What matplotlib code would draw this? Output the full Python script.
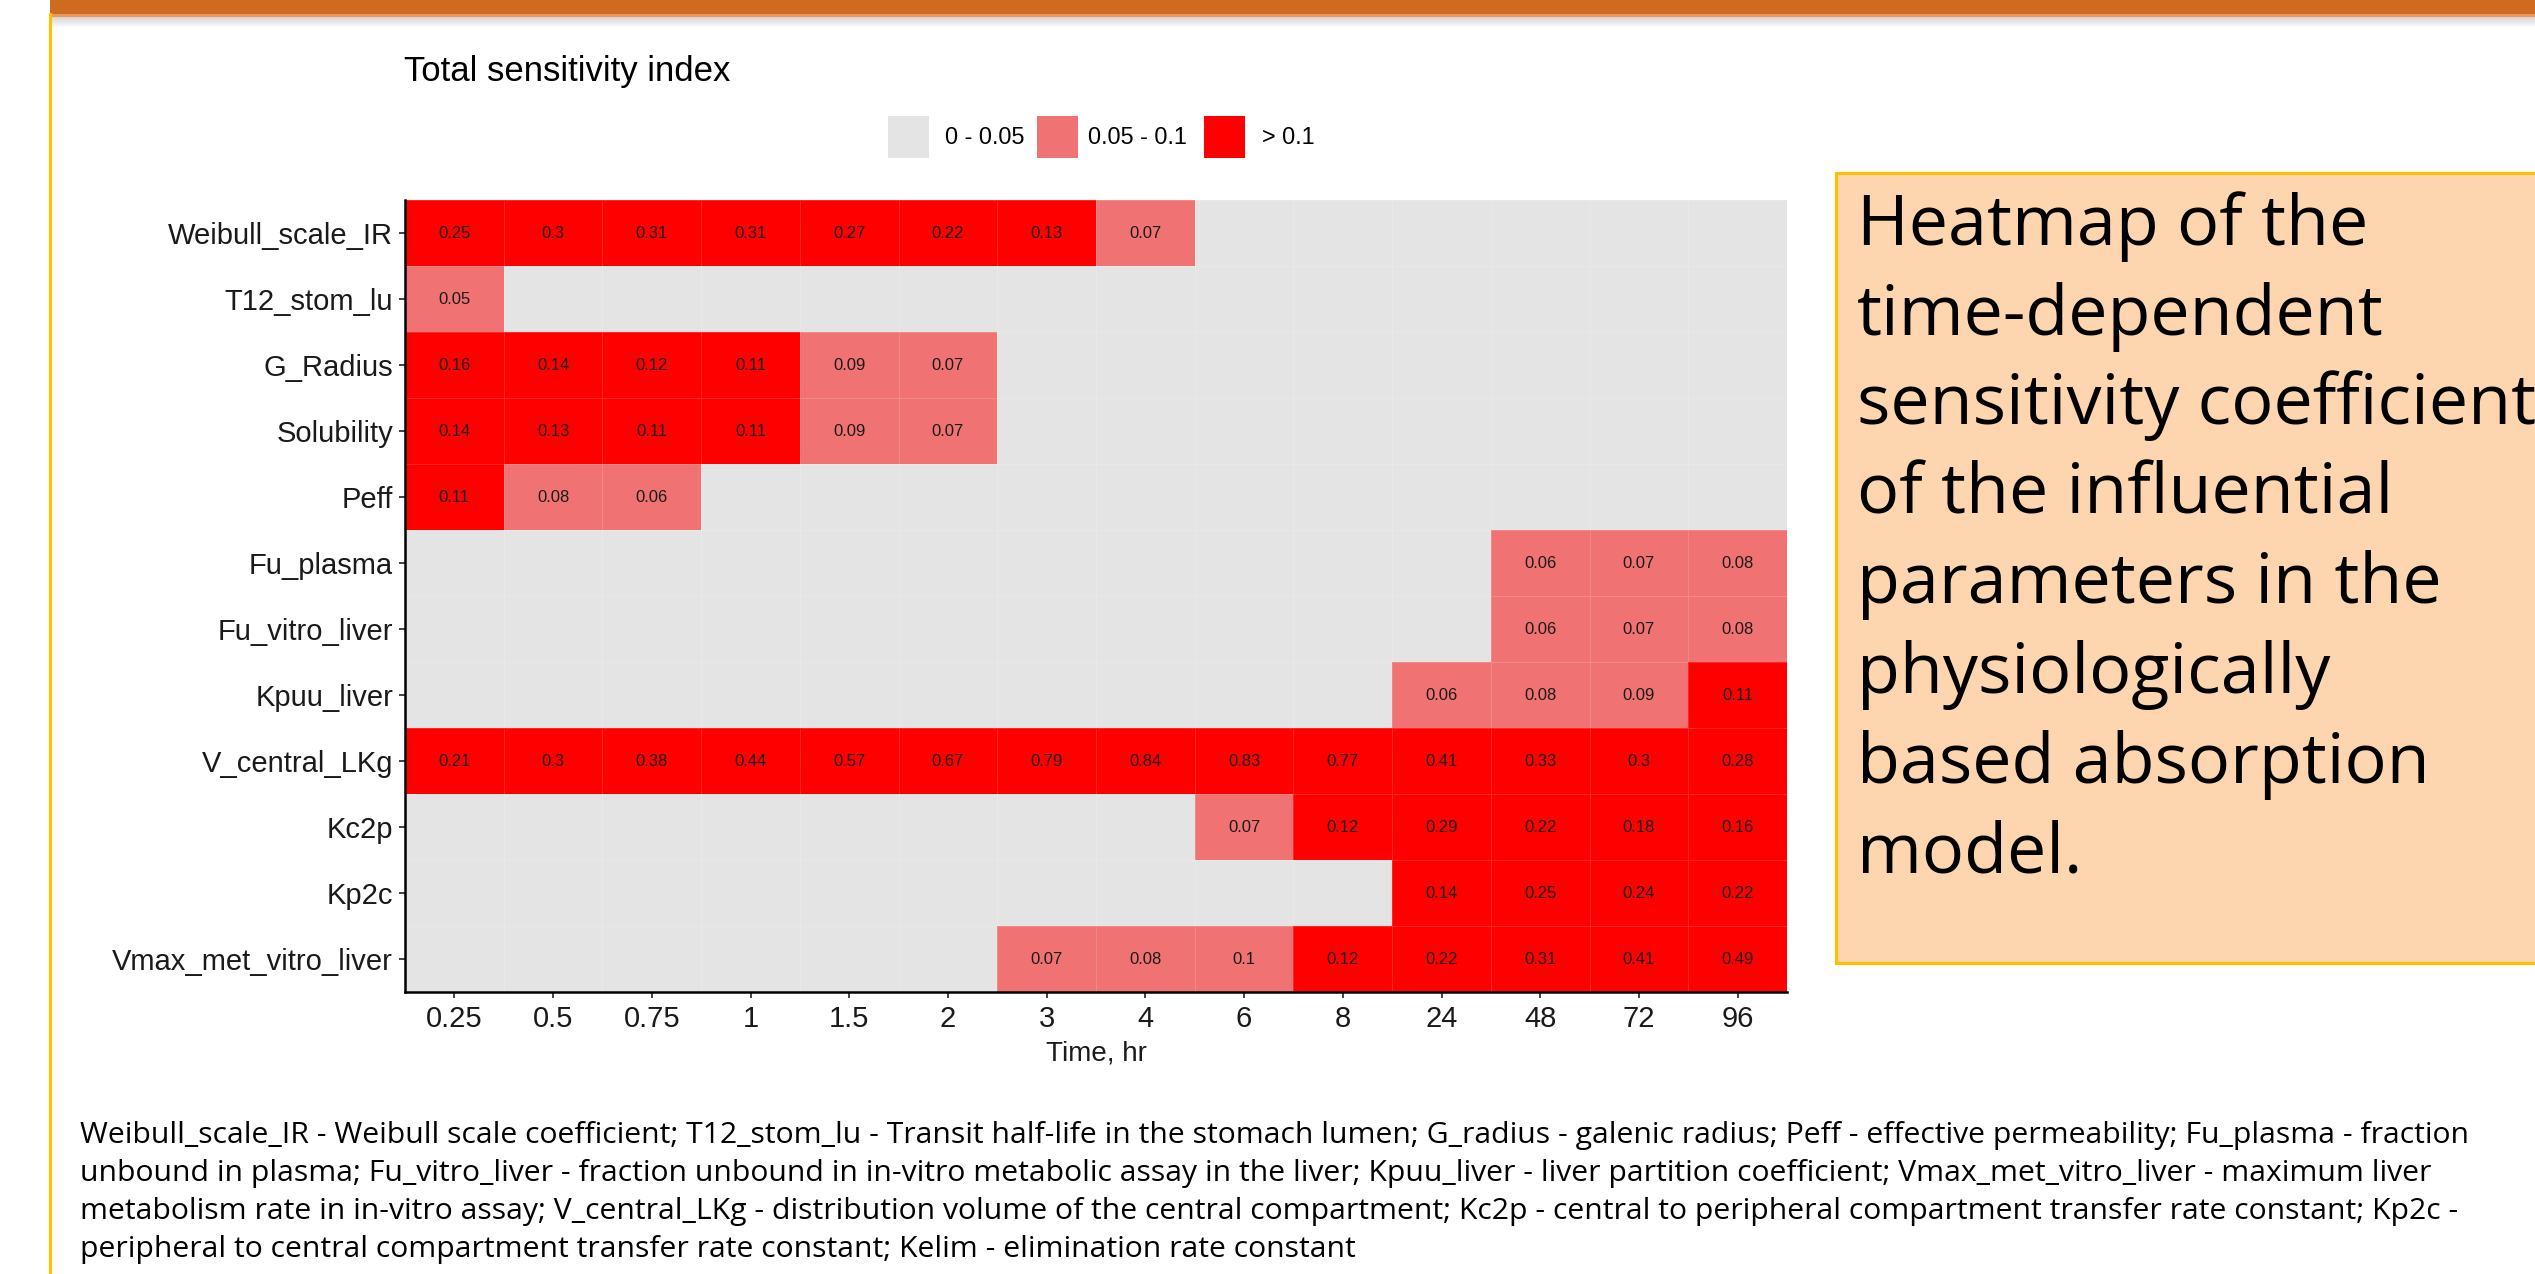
import numpy as np
import matplotlib
matplotlib.use("Agg")
import matplotlib.pyplot as plt
from matplotlib.colors import ListedColormap, BoundaryNorm
from matplotlib.patches import Rectangle

# ---- data -------------------------------------------------------------
times = ["0.25", "0.5", "0.75", "1", "1.5", "2", "3", "4", "6", "8", "24", "48", "72", "96"]
params = ["Weibull_scale_IR", "T12_stom_lu", "G_Radius", "Solubility", "Peff",
          "Fu_plasma", "Fu_vitro_liver", "Kpuu_liver", "V_central_LKg",
          "Kc2p", "Kp2c", "Vmax_met_vitro_liver"]
_ = np.nan  # index below 0.05 (not labelled)
weibull_scale_ir = [0.25, 0.3, 0.31, 0.31, 0.27, 0.22, 0.13, 0.07, _, _, _, _, _, _]
t12_stom_lu      = [0.05, _, _, _, _, _, _, _, _, _, _, _, _, _]
g_radius         = [0.16, 0.14, 0.12, 0.11, 0.09, 0.07, _, _, _, _, _, _, _, _]
solubility       = [0.14, 0.13, 0.11, 0.11, 0.09, 0.07, _, _, _, _, _, _, _, _]
peff             = [0.11, 0.08, 0.06, _, _, _, _, _, _, _, _, _, _, _]
fu_plasma        = [_, _, _, _, _, _, _, _, _, _, _, 0.06, 0.07, 0.08]
fu_vitro_liver   = [_, _, _, _, _, _, _, _, _, _, _, 0.06, 0.07, 0.08]
kpuu_liver       = [_, _, _, _, _, _, _, _, _, _, 0.06, 0.08, 0.09, 0.11]
v_central_lkg    = [0.21, 0.3, 0.38, 0.44, 0.57, 0.67, 0.79, 0.84, 0.83, 0.77, 0.41, 0.33, 0.3, 0.28]
kc2p             = [_, _, _, _, _, _, _, _, 0.07, 0.12, 0.29, 0.22, 0.18, 0.16]
kp2c             = [_, _, _, _, _, _, _, _, _, _, 0.14, 0.25, 0.24, 0.22]
vmax_met_vitro   = [_, _, _, _, _, _, 0.07, 0.08, 0.1, 0.12, 0.22, 0.31, 0.41, 0.49]

bin_labels = ["0 - 0.05", "0.05 - 0.1", "> 0.1"]
bin_colors = ["#E4E4E4", "#F17272", "#FF0000"]

rows = [weibull_scale_ir, t12_stom_lu, g_radius, solubility, peff, fu_plasma,
        fu_vitro_liver, kpuu_liver, v_central_lkg, kc2p, kp2c, vmax_met_vitro]
values = np.array(rows, dtype=float)

# category per cell: 0 -> below 0.05, 1 -> 0.05-0.1, 2 -> above 0.1
cats = np.zeros(values.shape, dtype=int)
cats[values >= 0.05 - 1e-9] = 1
cats[values > 0.1 + 1e-9] = 2

W, H = 2535, 1274
fig = plt.figure(figsize=(W / 100, H / 100), dpi=100)
fig.patch.set_facecolor("white")

def fx(px):
    return px / W

def fy(py):
    return 1 - py / H

chart_font = ["Liberation Sans", "DejaVu Sans"]
slide_font = ["Open Sans", "DejaVu Sans"]

# ---- slide decoration -------------------------------------------------
fig.patches.append(Rectangle((fx(50), fy(14)), 1, 14 / H, transform=fig.transFigure,
                             facecolor="#CE6B1F", edgecolor="none", zorder=5))
fig.patches.append(Rectangle((fx(50), fy(16.5)), 1, 2.5 / H, transform=fig.transFigure,
                             facecolor="#EC9A55", edgecolor="none", zorder=5))
for k in range(10):
    a = 0.35 * (1 - k / 10)
    fig.patches.append(Rectangle((fx(50), fy(17.5 + k)), 1, 1 / H, transform=fig.transFigure,
                                 facecolor=(0.55, 0.55, 0.55, a), edgecolor="none", zorder=4))
fig.add_artist(plt.Line2D([fx(50), fx(50)], [0, fy(14)], transform=fig.transFigure,
                          color="#FFC000", lw=2.2, zorder=6))

# ---- heatmap ----------------------------------------------------------
ax = fig.add_axes([fx(405), fy(992), (1787 - 405) / W, (992 - 200) / H])
cmap = ListedColormap(bin_colors)
norm = BoundaryNorm([-0.5, 0.5, 1.5, 2.5], cmap.N)
ax.pcolormesh(np.arange(len(times) + 1), np.arange(len(params) + 1), cats,
              cmap=cmap, norm=norm, edgecolors=(1, 1, 1, 0.16), linewidth=0.6)
ax.set_xlim(0, len(times))
ax.set_ylim(len(params), 0)

for i in range(len(params)):
    for j in range(len(times)):
        v = values[i, j]
        if not np.isnan(v):
            ax.text(j + 0.5, i + 0.5, f"{v:g}", ha="center", va="center",
                    fontsize=12, family=chart_font, color="#1A1A1A")

ax.set_xticks(np.arange(len(times)) + 0.5)
ax.set_xticklabels(times, family=chart_font, fontsize=21, color="#1A1A1A")
ax.set_yticks(np.arange(len(params)) + 0.5)
ax.set_yticklabels(params, family=chart_font, fontsize=21, color="#1A1A1A")
ax.tick_params(axis="both", length=4.5, width=1.3, color="#333333")
ax.tick_params(axis="x", pad=5)
ax.tick_params(axis="y", pad=4)
for s in ["top", "right"]:
    ax.spines[s].set_visible(False)
for s in ["left", "bottom"]:
    ax.spines[s].set_linewidth(1.8)
    ax.spines[s].set_color("black")
ax.set_xlabel("Time, hr", family=chart_font, fontsize=20, color="#1A1A1A", labelpad=5)

# title and legend
fig.text(fx(404), fy(71), "Total sensitivity index", family=chart_font, fontsize=25,
         ha="left", va="center", color="black")
legend_x = [888, 1037, 1204]
label_x = [945, 1088, 1262]
for bx, lx, c, lab in zip(legend_x, label_x, bin_colors, bin_labels):
    fig.patches.append(Rectangle((fx(bx), fy(158)), 41 / W, 42 / H, transform=fig.transFigure,
                                 facecolor=c, edgecolor="none"))
    fig.text(fx(lx), fy(137), lab, family=chart_font, fontsize=16.8, ha="left",
             va="center", color="black")

# ---- side note --------------------------------------------------------
fig.patches.append(Rectangle((fx(1836), fy(963)), (W + 20 - 1836) / W, (963 - 173) / H,
                             transform=fig.transFigure, facecolor="#FDD6AF",
                             edgecolor="#FFC000", linewidth=2.2, zorder=3))
note_lines = ["Heatmap of the", "time-dependent", "sensitivity coefficient",
              "of the influential", "parameters in the", "physiologically",
              "based absorption", "model."]
for k, line in enumerate(note_lines):
    fig.text(fx(1857), fy(245 + 89.6 * k), line, family=slide_font, fontsize=50.5,
             ha="left", va="baseline", color="black", zorder=4)

# ---- abbreviations ----------------------------------------------------
caption = [
    "Weibull_scale_IR - Weibull scale coefficient; T12_stom_lu - Transit half-life in the stomach lumen; G_radius - galenic radius; Peff - effective permeability; Fu_plasma - fraction",
    "unbound in plasma; Fu_vitro_liver - fraction unbound in in-vitro metabolic assay in the liver; Kpuu_liver - liver partition coefficient; Vmax_met_vitro_liver - maximum liver",
    "metabolism rate in in-vitro assay; V_central_LKg - distribution volume of the central compartment; Kc2p - central to peripheral compartment transfer rate constant; Kp2c -",
    "peripheral to central compartment transfer rate constant; Kelim - elimination rate constant",
]
for k, line in enumerate(caption):
    fig.text(fx(80), fy(1143 + 38 * k), line, family=slide_font, fontsize=21.7,
             ha="left", va="baseline", color="black")

fig.savefig("out.png", dpi=100)
